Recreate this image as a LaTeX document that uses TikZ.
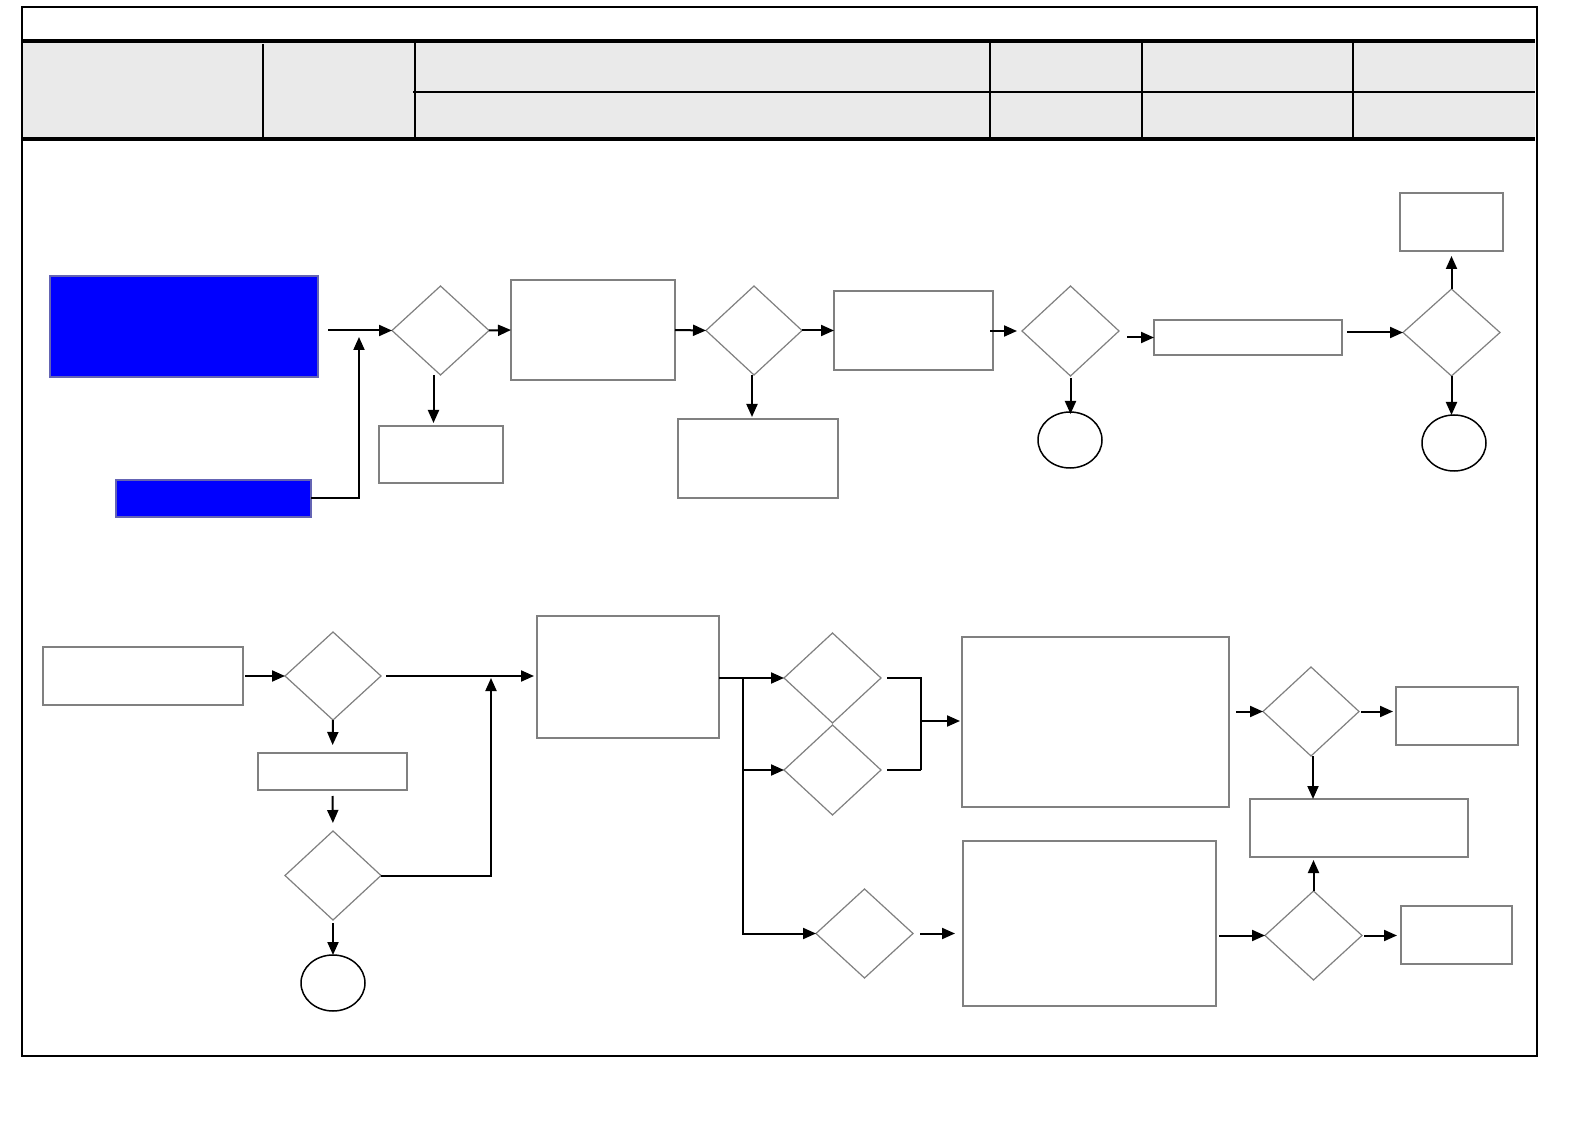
\documentclass[tikz,border=0pt]{standalone}
\usetikzlibrary{shapes.geometric,arrows.meta}
\definecolor{boxgray}{RGB}{128,128,128}
\definecolor{headgray}{RGB}{234,234,234}
\definecolor{pureblue}{RGB}{0,0,255}
\definecolor{blueedge}{RGB}{100,100,180}
\newcommand\placenode[6]{\node[#2, minimum width={(#5-#3)*0.5pt}, minimum height={(#6-#4)*0.5pt}] (#1) at ({(#3+#5)/2},{(#4+#6)/2}) {};}
\begin{document}
\begin{tikzpicture}[x=0.5pt,y=-0.5pt,
 gbox/.style={rectangle, draw=boxgray, line width=0.75pt, fill=white, inner sep=0pt, outer sep=0pt},
 bbox/.style={rectangle, draw=blueedge, fill=pureblue, line width=0.75pt, inner sep=0pt, outer sep=0pt},
 dia/.style={diamond, draw=boxgray, line width=0.6pt, fill=white, inner sep=0pt, outer sep=0pt},
 term/.style={ellipse, draw=black, line width=0.75pt, fill=white, inner sep=0pt, outer sep=0pt},
 arr/.style={-{Triangle[length=6.5pt,width=5.5pt]}, line width=1pt},
 ln/.style={line width=1pt},
 rule/.style={line width=1pt},
 thickrule/.style={line width=1.6pt}]
\useasboundingbox (0,0) rectangle (1587,1134);
\fill[white] (0,0) rectangle (1587,1134);
% header
\fill[headgray] (22,41) rectangle (1535,139);
\draw[rule] (22,7) rectangle (1537,1056);
\draw[thickrule] (22,41) -- (1535,41);
\draw[thickrule] (22,139) -- (1535,139);
\draw[rule] (263,44) -- (263,139);
\draw[rule] (415,41) -- (415,139);
\draw[rule] (990,41) -- (990,139);
\draw[rule] (1142,41) -- (1142,139);
\draw[rule] (1353,41) -- (1353,139);
\draw[rule] (413,92) -- (1535,92);
% top row nodes
\placenode{A}{bbox}{50}{276}{318}{377}
\placenode{B}{bbox}{116}{480}{311}{517}
\placenode{D1}{dia}{392}{286}{489}{375}
\placenode{R1}{gbox}{511}{280}{675}{380}
\placenode{R2}{gbox}{379}{426}{503}{483}
\placenode{D2}{dia}{706}{286}{802}{375}
\placenode{R3}{gbox}{678}{419}{838}{498}
\placenode{R4}{gbox}{834}{291}{993}{370}
\placenode{D3}{dia}{1022}{286}{1119}{376}
\placenode{C1}{term}{1038}{412}{1102}{468}
\placenode{R5}{gbox}{1154}{320}{1342}{355}
\placenode{D4}{dia}{1403}{289}{1500}{376}
\placenode{R6}{gbox}{1400}{193}{1503}{251}
\placenode{C2}{term}{1422}{415}{1486}{471}
% bottom nodes
\placenode{R7}{gbox}{43}{647}{243}{705}
\placenode{D5}{dia}{285}{632}{381}{720}
\placenode{R8}{gbox}{258}{753}{407}{790}
\placenode{D6}{dia}{285}{831}{381}{920}
\placenode{C3}{term}{301}{955}{365}{1011}
\placenode{R9}{gbox}{537}{616}{719}{738}
\placenode{D7}{dia}{784}{633}{881}{723}
\placenode{D8}{dia}{784}{725}{881}{815}
\placenode{D9}{dia}{816}{889}{913}{978}
\placenode{R10}{gbox}{962}{637}{1229}{807}
\placenode{R11}{gbox}{963}{841}{1216}{1006}
\placenode{D10}{dia}{1263}{667}{1359}{756}
\placenode{R12}{gbox}{1396}{687}{1518}{745}
\placenode{R13}{gbox}{1250}{799}{1468}{857}
\placenode{D11}{dia}{1265}{891}{1362}{980}
\placenode{R14}{gbox}{1401}{906}{1512}{964}
\coordinate (j1) at (359,337);
\coordinate (j2) at (491,678);
\coordinate (br) at (743,678);
\coordinate (bk) at (921,721);
% top connectors
\draw[arr, shorten <=5pt] (A.east |- D1.west) -- (D1.west);
\draw[arr] (B.east) -| (j1);
\draw[arr] (D1.east) -- (R1.west);
\draw[arr, shorten >=1.5pt] ([xshift=-3.5pt]D1.south) -- ([xshift=-3.5pt]D1.south |- R2.north);
\draw[arr] (R1.east) -- (D2.west);
\draw[arr, shorten >=1pt] ([xshift=-1pt]D2.south) -- ([xshift=-1pt]D2.south |- R3.north);
\draw[arr] (D2.east) -- (D2.east -| R4.west);
\draw[arr, shorten <=-1.5pt, shorten >=2.5pt] (R4.east |- D3.west) -- (D3.west);
\draw[arr] ([yshift=-1pt]D3.south) -- ([yshift=-1pt]D3.south |- C1.north);
\draw[arr, shorten <=4pt] (D3.east |- R5.west) -- (R5.west);
\draw[arr, shorten <=2.5pt] (R5.east |- D4.west) -- (D4.west);
\draw[arr, shorten >=2.5pt] (D4.north) -- (D4.north |- R6.south);
\draw[arr] (D4.south) -- (D4.south |- C2.north);
% bottom connectors
\draw[arr, shorten <=1pt] (R7.east |- D5.west) -- (D5.west);
\draw[arr, shorten <=2.5pt, shorten >=1.5pt] (D5.east) -- (D5.east -| R9.west);
\draw[arr, shorten >=4pt] (D5.south) -- (R8.north);
\draw[arr, shorten <=3pt, shorten >=4pt] (R8.south) -- (D6.north);
\draw[arr] (D6.east) -| (j2);
\draw[arr, shorten <=1.5pt] (D6.south) -- (C3.north);
\draw[arr] (R9.east |- D7.west) -- (D7.west);
\draw[arr] (br) |- (D8.west);
\draw[arr] (br) |- (D9.west);
\draw[ln, shorten <=3pt] (D7.east) -| (bk |- D8.east);
\draw[ln] (bk |- D8.east) -- ([xshift=3pt]D8.east);
\draw[arr, shorten >=1pt] (bk) -- (bk -| R10.west);
\draw[arr, shorten <=3.5pt, shorten >=4pt] (D9.east) -- (D9.east -| R11.west);
\draw[arr, shorten <=3.5pt] (R10.east |- D10.west) -- (D10.west);
\draw[arr, shorten <=1pt, shorten >=1.5pt] (D10.east) -- (D10.east -| R12.west);
\draw[arr] ([xshift=1pt]D10.south) -- ([xshift=1pt]D10.south |- R13.north);
\draw[arr, shorten <=1.5pt] (R11.east |- D11.west) -- (D11.west);
\draw[arr, shorten >=1.5pt] (D11.north) -- (D11.north |- R13.south);
\draw[arr, shorten <=1pt, shorten >=2pt] (D11.east) -- (D11.east -| R14.west);
\end{tikzpicture}
\end{document}
